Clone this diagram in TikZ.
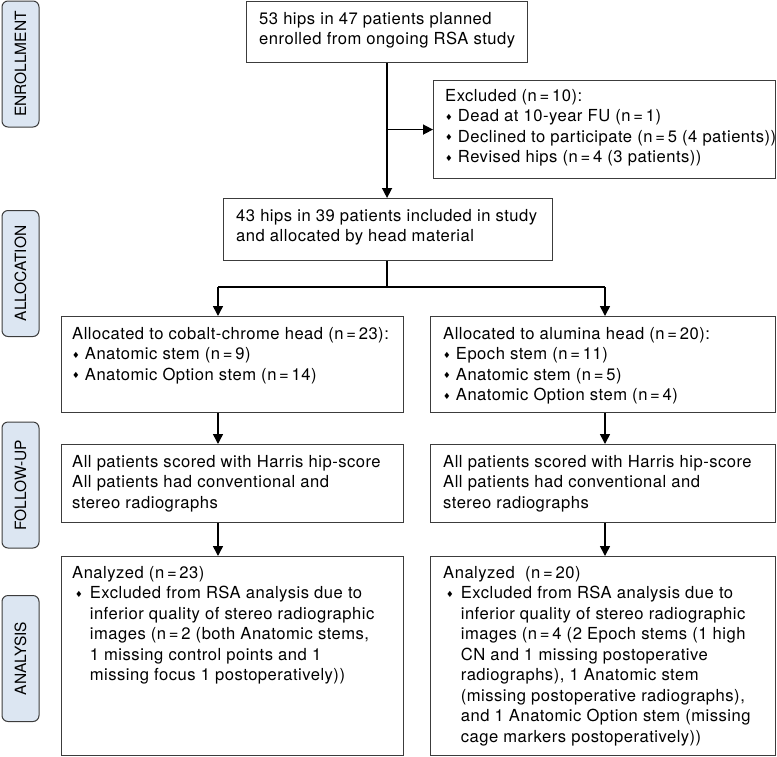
\documentclass[tikz,border=0pt]{standalone}
\usepackage{fontspec}
\setmainfont[LetterSpace=3.0]{TeX Gyre Heros}
\newfontfamily\plainfont{TeX Gyre Heros}
\newfontfamily\symfont{DejaVu Sans}
\usetikzlibrary{arrows.meta,positioning}
\definecolor{phasefill}{HTML}{DCE6F2}
\definecolor{framegray}{HTML}{3C3C3C}
\newcommand{\dmd}{\raisebox{1.5pt}{\symfont\fontsize{8.5}{8.5}\selectfont ♦}}
\newcommand{\nn}{n\,=\,}
\newcommand{\bul}{\hspace*{3pt}\dmd\hspace{7pt}}
\newcommand{\hng}{\hphantom{\bul}}
\begin{document}
\begin{tikzpicture}[x=1pt, y=-1pt, >={Triangle[width=10pt,length=10pt]},
  font=\fontsize{16.6}{20.5}\selectfont,
  phase/.style={draw=framegray, line width=1pt, fill=phasefill, rounded corners=6pt,
    rotate=90, minimum width=126pt, minimum height=37pt, inner sep=0pt,
    font=\plainfont\fontsize{15.5}{18}\selectfont},
  box/.style={draw=framegray, line width=1.1pt, anchor=north west, inner sep=0pt},
  txt/.style={anchor=north west, inner sep=0pt, align=left, execute at begin node=\strut},
  flow/.style={->, line width=1.5pt}]
  \useasboundingbox (0,0) rectangle (777,756);

  % phases on the left
  \foreach \nm/\y/\lbl in {enr/64/ENROLLMENT, alc/273.5/ALLOCATION, fup/485/FOLLOW-UP, ana/658.5/ANALYSIS}{
    \node[phase] (\nm) at (20.5,\y) {\lbl};
  }

  % boxes
  \node[box, minimum width=281pt, minimum height=61pt] (enrol) at (246,1) {};
  \node[box, minimum width=342pt, minimum height=98pt] (excl) at (433,80) {};
  \node[box, minimum width=329pt, minimum height=62pt] (incl) at (223,198) {};
  \node[box, minimum width=342pt, minimum height=96pt] (cocr) at (61,316) {};
  \node[box, minimum width=345pt, minimum height=96pt] (alum) at (430,316) {};
  \node[box, minimum width=342pt, minimum height=78pt] (fupL) at (61,444) {};
  \node[box, minimum width=345pt, minimum height=78pt] (fupR) at (430,444) {};
  \node[box, minimum width=342pt, minimum height=199pt] (anaL) at (61,556) {};
  \node[box, minimum width=345pt, minimum height=199pt] (anaR) at (430,556) {};

  % texts
  \node[txt] (enrolt) at ([shift={(13,11)}]enrol.north west)
    {53 hips in 47 patients planned\\enrolled from ongoing RSA study};
  \node[txt] (exclt) at ([shift={(12,9)}]excl.north west)
    {Excluded (\nn10):\\
     \dmd\ Dead at 10-year FU (\nn1)\\
     \dmd\ Declined to participate (\nn5 (4 patients))\\
     \dmd\ Revised hips (\nn4 (3 patients))};
  \node[txt] (inclt) at ([shift={(13,11)}]incl.north west)
    {43 hips in 39 patients included in study\\and allocated by head material};
  \node[txt] (cocrt) at ([shift={(11,11)}]cocr.north west)
    {Allocated to cobalt-chrome head (\nn23):\\
     \dmd\ Anatomic stem (\nn9)\\
     \dmd\ Anatomic Option stem (\nn14)};
  \node[txt] (alumt) at ([shift={(13,11)}]alum.north west)
    {Allocated to alumina head (\nn20):\\
     \dmd\ Epoch stem (\nn11)\\
     \dmd\ Anatomic stem (\nn5)\\
     \dmd\ Anatomic Option stem (\nn4)};
  \node[txt] (fupLt) at ([shift={(11,11)}]fupL.north west)
    {All patients scored with Harris hip-score\\All patients had conventional and\\stereo radiographs};
  \node[txt] (fupRt) at ([shift={(13,11)}]fupR.north west)
    {All patients scored with Harris hip-score\\All patients had conventional and\\stereo radiographs};
  \node[txt] (anaLt) at ([shift={(11,10)}]anaL.north west)
    {Analyzed (\nn23)\\
     \bul Excluded from RSA analysis due to\\
     \hng inferior quality of stereo radiographic\\
     \hng images (\nn2 (both Anatomic stems,\\
     \hng 1 missing control points and 1\\
     \hng missing focus 1 postoperatively))};
  \node[txt] (anaRt) at ([shift={(13,10)}]anaR.north west)
    {Analyzed\ \ (\nn20)\\
     \bul Excluded from RSA analysis due to\\
     \hng inferior quality of stereo radiographic\\
     \hng images (\nn4 (2 Epoch stems (1 high\\
     \hng CN and 1 missing postoperative\\
     \hng radiographs), 1 Anatomic stem\\
     \hng (missing postoperative radiographs),\\
     \hng and 1 Anatomic Option stem (missing\\
     \hng cage markers postoperatively))};

  % connectors
  \coordinate (split) at (387,287);
  \coordinate (colL) at (218,287);
  \coordinate (colR) at (605,287);
  \draw[flow] (enrol.south) -- (enrol.south |- incl.north);
  \draw[flow] (enrol.south |- excl.west) -- (excl.west);
  \draw[line width=1.5pt] (incl.south -| split) -- (split);
  \draw[line width=1.5pt] (colL) -- (colR);
  \draw[flow] (colL) -- (colL |- cocr.north);
  \draw[flow] (colR) -- (colR |- alum.north);
  \draw[flow] (colL |- cocr.south) -- (colL |- fupL.north);
  \draw[flow] (colR |- alum.south) -- (colR |- fupR.north);
  \draw[flow] (colL |- fupL.south) -- (colL |- anaL.north);
  \draw[flow] (colR |- fupR.south) -- (colR |- anaR.north);
\end{tikzpicture}
\end{document}
